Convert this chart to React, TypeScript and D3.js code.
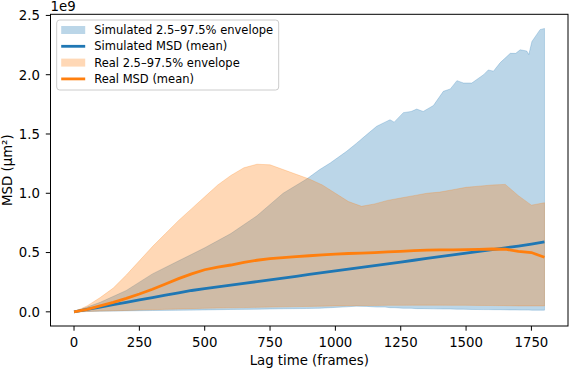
import React from 'react';
import * as d3 from 'd3';

// lag grid shared by the smoother series (frames)
const lags = [
  0, 50, 100, 150, 200, 250, 300, 350, 400, 450, 500, 550, 600, 650, 700, 750, 800, 850,
  900, 950, 1000, 1050, 1100, 1150, 1200, 1250, 1300, 1350, 1400, 1450, 1500, 1550, 1600,
  1650, 1700, 1750, 1800,
];

// values in units of 1e9 µm²
const simMean = [
  0, 0.02, 0.04, 0.06, 0.08, 0.1, 0.12, 0.14, 0.16, 0.18, 0.195, 0.21, 0.225, 0.24, 0.255,
  0.27, 0.285, 0.3, 0.315, 0.33, 0.345, 0.36, 0.375, 0.39, 0.405, 0.42, 0.435, 0.45, 0.465,
  0.48, 0.495, 0.51, 0.525, 0.54, 0.555, 0.572, 0.59,
];
const simLower = [
  0, 0.003, 0.005, 0.007, 0.008, 0.01, 0.011, 0.012, 0.013, 0.015, 0.016, 0.018, 0.02, 0.021,
  0.022, 0.024, 0.026, 0.028, 0.03, 0.035, 0.042, 0.048, 0.046, 0.04, 0.035, 0.03, 0.027,
  0.025, 0.024, 0.022, 0.02, 0.019, 0.018, 0.016, 0.015, 0.014, 0.014,
];
const realMean = [
  0, 0.02, 0.05, 0.08, 0.113, 0.15, 0.19, 0.235, 0.28, 0.32, 0.355, 0.378, 0.395, 0.418, 0.435,
  0.448, 0.458, 0.466, 0.473, 0.48, 0.487, 0.492, 0.496, 0.5, 0.505, 0.51, 0.516, 0.52, 0.522,
  0.523, 0.525, 0.527, 0.53, 0.528, 0.51, 0.5, 0.46,
];
const realUpper = [
  0, 0.05, 0.12, 0.2, 0.31, 0.43, 0.55, 0.66, 0.77, 0.87, 0.97, 1.07, 1.15, 1.215, 1.245,
  1.24, 1.2, 1.16, 1.12, 1.07, 1.0, 0.93, 0.89, 0.91, 0.94, 0.96, 0.98, 1.0, 1.01, 1.03, 1.05,
  1.06, 1.07, 1.075, 0.98, 0.9, 0.92,
];
const realLower = [
  0, 0.003, 0.006, 0.009, 0.012, 0.015, 0.018, 0.021, 0.024, 0.027, 0.03, 0.032, 0.034,
  0.036, 0.038, 0.04, 0.042, 0.044, 0.046, 0.048, 0.05, 0.052, 0.053, 0.054, 0.055, 0.055,
  0.056, 0.056, 0.056, 0.055, 0.055, 0.054, 0.053, 0.052, 0.05, 0.05, 0.05,
];

// jagged simulated upper bound, read on its own lag points
const simUpperLags = [
  0, 100, 200, 300, 400, 500, 600, 700, 800, 890, 940, 980, 1043, 1080, 1120, 1158, 1190,
  1209, 1225, 1260, 1290, 1311, 1336, 1375, 1413, 1440, 1465, 1490, 1522, 1567, 1585, 1605,
  1630, 1669, 1690, 1707, 1732, 1740, 1752, 1783, 1800,
];
const simUpper = [
  0, 0.08, 0.18, 0.32, 0.43, 0.54, 0.66, 0.81, 1.0, 1.12, 1.2, 1.255, 1.354, 1.42, 1.495,
  1.565, 1.6, 1.62, 1.6, 1.68, 1.69, 1.71, 1.69, 1.74, 1.86, 1.88, 1.95, 1.93, 1.93, 2.0,
  2.04, 2.03, 2.1, 2.18, 2.18, 2.21, 2.2, 2.17, 2.28, 2.38, 2.39,
];

const xTicks = [0, 250, 500, 750, 1000, 1250, 1500, 1750];
const yTicks = [0, 0.5, 1.0, 1.5, 2.0, 2.5];

const legendItems = [
  { label: 'Simulated 2.5–97.5% envelope', kind: 'patch', color: '#1f77b4' },
  { label: 'Simulated MSD (mean)', kind: 'line', color: '#1f77b4' },
  { label: 'Real 2.5–97.5% envelope', kind: 'patch', color: '#ff7f0e' },
  { label: 'Real MSD (mean)', kind: 'line', color: '#ff7f0e' },
];

const W = 570;
const H = 369;
const FONT = 'DejaVu Sans, sans-serif';
const FS = 13.3;
const FS_LEGEND = 11.5;

export default function App() {
  const left = 50.5, right = 568, top = 14.3, bottom = 326;
  const x = d3.scaleLinear().domain([-90, 1890]).range([left, right]);
  const y = d3.scaleLinear().domain([-0.1195, 2.5095]).range([bottom, top]);

  const simBand = simUpperLags.map((l, i) => {
    // lower bound sampled on the shared grid
    const j = d3.bisectLeft(lags, l);
    const lo = j < lags.length && lags[j] === l
      ? simLower[j]
      : simLower[Math.max(0, j - 1)];
    return { l, hi: simUpper[i], lo };
  });
  const realBand = lags.map((l, i) => ({ l, hi: realUpper[i], lo: realLower[i] }));

  const area = d3.area<{ l: number; hi: number; lo: number }>()
    .x(d => x(d.l)).y0(d => y(d.lo)).y1(d => y(d.hi));
  const line = d3.line<number>().x((_, i) => x(lags[i])).y(d => y(d));

  return (
    <svg width={W} height={H} style={{ position: 'absolute', left: 0, top: 0, background: '#fff' }}
      fontFamily={FONT} fontSize={FS}>
      <path d={area(simBand) || ''} fill="#1f77b4" fillOpacity={0.3} stroke="#1f77b4" strokeOpacity={0.3} strokeWidth={0.8} />
      <path d={area(realBand) || ''} fill="#ff7f0e" fillOpacity={0.3} stroke="#ff7f0e" strokeOpacity={0.3} strokeWidth={0.8} />
      <path d={line(simMean) || ''} fill="none" stroke="#1f77b4" strokeWidth={2.8} />
      <path d={line(realMean) || ''} fill="none" stroke="#ff7f0e" strokeWidth={2.8} />

      <rect x={left} y={top} width={right - left} height={bottom - top} fill="none" stroke="#000" strokeWidth={1} />

      {xTicks.map(t => (
        <g key={t} transform={`translate(${x(t)},${bottom})`}>
          <line y2={4.7} stroke="#000" strokeWidth={1} />
          <text y={21} textAnchor="middle" fill="#000">{t}</text>
        </g>
      ))}
      {yTicks.map(t => (
        <g key={t} transform={`translate(${left},${y(t)})`}>
          <line x2={-4.7} stroke="#000" strokeWidth={1} />
          <text x={-10.5} dy="0.36em" textAnchor="end" fill="#000">{t.toFixed(1)}</text>
        </g>
      ))}
      <text x={left} y={11} fill="#000">1e9</text>
      <text x={(left + right) / 2} y={365} textAnchor="middle" fill="#000">Lag time (frames)</text>
      <text transform={`translate(11.7,${(top + bottom) / 2}) rotate(-90)`} textAnchor="middle" fill="#000">
        MSD (μm²)
      </text>

      <g transform="translate(56.7,20)" fontSize={FS_LEGEND}>
        <rect width={222} height={70} rx={3} fill="#fff" fillOpacity={0.8} stroke="#cccccc" strokeWidth={1} />
        {legendItems.map((it, i) => {
          const cy = 10 + i * 16.3;
          return (
            <g key={it.label}>
              {it.kind === 'patch'
                ? <rect x={4.5} y={cy - 4} width={24} height={8} fill={it.color} fillOpacity={0.3} />
                : <line x1={4.5} x2={28.5} y1={cy} y2={cy} stroke={it.color} strokeWidth={2.8} />}
              <text x={37.5} y={cy} dy="0.35em" fill="#000">{it.label}</text>
            </g>
          );
        })}
      </g>
    </svg>
  );
}
